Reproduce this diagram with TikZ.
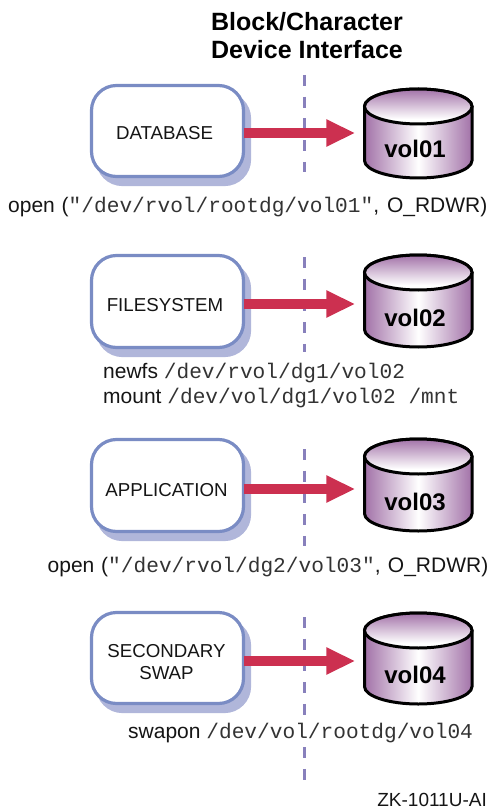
\documentclass[tikz,border=0pt]{standalone}
\usepackage{fontspec}
\setmainfont{Liberation Sans}
\setmonofont{Liberation Mono}
\usetikzlibrary{arrows.meta,shadows}
\definecolor{boxblue}{HTML}{7A8CC4}
\definecolor{shadowblue}{HTML}{B0B6DA}
\definecolor{dashpurple}{HTML}{8880BC}
\definecolor{arrowred}{HTML}{CC3050}
\definecolor{cylpurple}{HTML}{A272A8}
\definecolor{inktext}{HTML}{151515}
\definecolor{monotext}{HTML}{333333}
\pgfdeclareverticalshading{cyltop}{100bp}{color(0bp)=(white);color(32bp)=(white);color(75bp)=(cylpurple);color(100bp)=(cylpurple)}
\tikzset{
  appbox/.style={draw=boxblue,line width=3.2pt,fill=white,rounded corners=25pt,
    minimum width=152pt,inner sep=0pt,outer sep=0pt,
    copy shadow={shadow xshift=6pt,shadow yshift=-8pt,fill=shadowblue,draw=shadowblue,line width=3.2pt}},
  applabel/.style={font=\fontsize{18.7}{22}\selectfont,text=inktext,anchor=base,inner sep=0pt},
  vollabel/.style={font=\fontsize{24}{28}\selectfont\bfseries,text=black,anchor=base,inner sep=0pt},
  cylslot/.style={inner sep=0pt,outer sep=0pt,minimum width=109pt},
  cylbody/.style={draw=black,line width=3pt,left color=cylpurple,right color=cylpurple,middle color=white},
  cyllid/.style={draw=black,line width=3pt,shading=cyltop},
  iface/.style={draw=dashpurple,line width=3pt,dash pattern=on 11pt off 10.7pt},
  feed/.style={draw=arrowred,line width=10pt,-{Triangle[length=29pt,width=25.4pt,fill=arrowred]},shorten >=8.5pt},
  cmd/.style={font=\fontsize{21}{25}\selectfont,text=inktext,anchor=base west,inner sep=0pt},
  title/.style={font=\fontsize{25}{29}\selectfont\bfseries,text=black,anchor=base,inner sep=0pt},
  stamp/.style={font=\fontsize{19}{22}\selectfont,text=inktext,anchor=base east,inner sep=0pt},
}
\newcommand{\pth}[1]{{\color{monotext}\fontsize{21.15}{25}\selectfont\texttt{#1}}}
% #1 id, #2 box top, #3 box bottom, #4 arrow y, #5 cyl top, #6 cyl bottom, #7 dash top, #8 dash bottom
\newcommand{\diagrow}[8]{
  \node[appbox,minimum height={(#3-#2)*1pt}] (box#1) at (167.5,{(#2+#3)/2}) {};
  \coordinate (dashA#1) at (304,#7);
  \coordinate (dashB#1) at (304,#8);
  \draw[iface] (dashA#1) -- (dashB#1);
  \node[cylslot,minimum height={(#6-#5)*1pt}] (cyl#1) at (418.25,{(#5+#6)/2}) {};
  \coordinate (aim#1) at (cyl#1.west |- 0,#4);
  \draw[feed] (aim#1 -| box#1.east) -- (aim#1);
  \draw[cylbody] (364.5,{#5+17.5}) -- (364.5,{#6-17.5})
     arc[start angle=180,end angle=360,x radius=53.75pt,y radius=17.5pt]
     -- (472,{#5+17.5})
     arc[start angle=0,end angle=180,x radius=53.75pt,y radius=17.5pt] -- cycle;
  \draw[cyllid] (418.25,{#5+17.5}) ellipse[x radius=53.75pt,y radius=17.5pt];
}
\begin{document}
\begin{tikzpicture}[x=1pt,y=-1pt]
\useasboundingbox (0,0) rectangle (490,810);
\diagrow{1}{85.5}{176.5}{133}{89}{178}{75}{172}
\diagrow{2}{255.5}{347.5}{304}{255}{347}{257}{352}
\diagrow{3}{439.5}{531.5}{489}{439}{531}{449}{546}
\diagrow{4}{612.5}{703.5}{661}{613}{704}{617}{782}
\node[title] (titleA) at (307,31) {Block/Character};
\node[title] (titleB) at (307,59) {Device Interface};
\node[applabel] (lab1) at (164.5,140) {DATABASE};
\node[applabel] (lab2) at (165,311) {FILESYSTEM};
\node[applabel] (lab3) at (166.5,496) {APPLICATION};
\node[applabel] (lab4a) at (166.5,657) {SECONDARY};
\node[applabel] (lab4b) at (166.5,679) {SWAP};
\node[vollabel] (vol1) at (415,158) {vol01};
\node[vollabel] (vol2) at (415,326) {vol02};
\node[vollabel] (vol3) at (415,510) {vol03};
\node[vollabel] (vol4) at (415,683) {vol04};
\node[cmd] (cmd1) at (8,212.7) {open\hspace{1pt} (\pth{"/dev/rvol/rootdg/vol01"}, \hspace{2pt}O\_RDWR)};
\node[cmd] (cmd2a) at (103,378) {newfs \pth{/dev/rvol/dg1/vol02}};
\node[cmd] (cmd2b) at (103,403) {mount \pth{/dev/vol/dg1/vol02 /mnt}};
\node[cmd] (cmd3) at (47.5,572) {open\hspace{1pt} (\pth{"/dev/rvol/dg2/vol03"}, \hspace{1.5pt}O\_RDWR)};
\node[cmd,fill=white] (cmd4) at (128,738) {swapon \pth{/dev/vol/rootdg/vol04}};
\node[stamp] (stamp) at (487,806) {ZK-1011U-AI};
\end{tikzpicture}
\end{document}
